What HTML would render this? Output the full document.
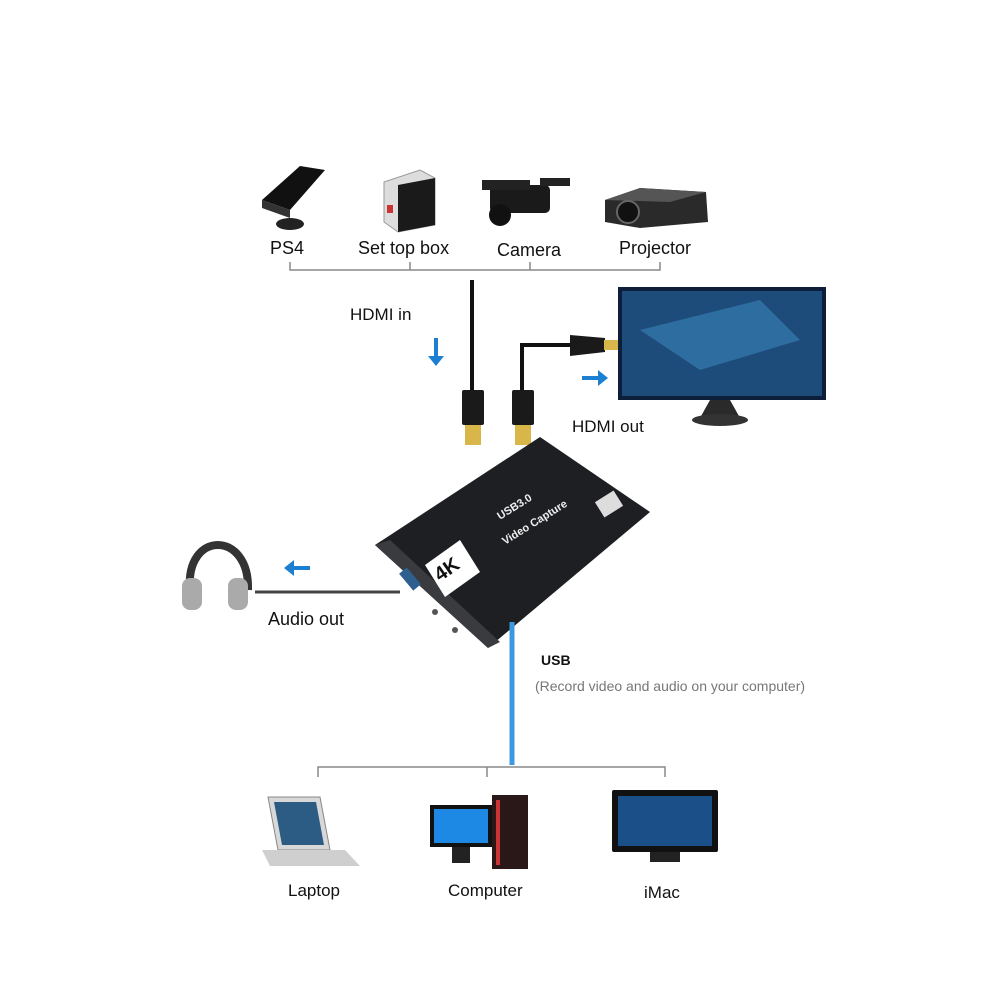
<!DOCTYPE html>
<html><head><meta charset="utf-8"><style>
html,body{margin:0;padding:0;background:#fff;width:1000px;height:1000px;overflow:hidden}
text{font-family:"Liberation Sans",sans-serif}
</style></head><body>
<svg width="1000" height="1000" viewBox="0 0 1000 1000" xmlns="http://www.w3.org/2000/svg">
<g>
  <polygon points="262,200 300,166 325,170 290,210" fill="#111"/>
  <polygon points="262,200 290,210 290,218 262,208" fill="#333"/>
  <ellipse cx="290" cy="224" rx="14" ry="6" fill="#222"/>
  <polygon points="384,182 420,170 435,178 435,225 398,232 384,222" fill="#ddd" stroke="#999"/>
  <polygon points="398,185 435,178 435,225 398,232" fill="#1a1a1a"/>
  <rect x="387" y="205" width="6" height="8" fill="#c33"/>
  <rect x="490" y="185" width="60" height="28" rx="5" fill="#1a1a1a"/>
  <rect x="482" y="180" width="48" height="10" fill="#222"/>
  <circle cx="500" cy="215" r="11" fill="#111"/>
  <rect x="540" y="178" width="30" height="8" fill="#222"/>
  <polygon points="605,200 640,188 706,192 708,222 640,228 605,222" fill="#2a2a2a"/>
  <polygon points="605,200 640,188 706,192 670,202" fill="#555"/>
  <circle cx="628" cy="212" r="11" fill="#111" stroke="#666" stroke-width="2"/>
</g>
<g font-size="18" fill="#111">
  <text x="270" y="254">PS4</text>
  <text x="358" y="254">Set top box</text>
  <text x="497" y="256">Camera</text>
  <text x="619" y="254">Projector</text>
</g>
<g stroke="#888" stroke-width="1.5" fill="none">
  <path d="M290,262 V270 H660 V262"/>
  <path d="M410,262 V270 M530,262 V270"/>
  <path d="M318,777 V767 H665 V777 M487,767 V777"/>
</g>
<text x="350" y="320" font-size="17" fill="#111">HDMI in</text>
<path d="M436,338 V358" stroke="#1d7fd1" stroke-width="4"/>
<polygon points="428,356 444,356 436,366" fill="#1d7fd1"/>
<path d="M472,280 V395" stroke="#111" stroke-width="4" fill="none"/>
<rect x="462" y="390" width="22" height="35" rx="2" fill="#1a1a1a"/>
<rect x="465" y="425" width="16" height="20" fill="#d9b64a"/>
<path d="M522,395 V345 H575" stroke="#111" stroke-width="4" fill="none"/>
<rect x="512" y="390" width="22" height="35" rx="2" fill="#1a1a1a"/>
<rect x="515" y="425" width="16" height="20" fill="#d9b64a"/>
<polygon points="570,335 605,338 605,352 570,356" fill="#1a1a1a"/>
<rect x="604" y="340" width="14" height="10" fill="#d9b64a"/>
<rect x="618" y="287" width="208" height="113" fill="#0d1e3a"/>
<rect x="622" y="291" width="200" height="105" fill="#1d4c7a"/>
<polygon points="640,330 760,300 800,340 700,370" fill="#2e6da0"/>
<path d="M710,400 L700,418 L740,418 L730,400" fill="#2a2a2a"/>
<ellipse cx="720" cy="420" rx="28" ry="6" fill="#333"/>
<path d="M582,378 H600" stroke="#1d7fd1" stroke-width="4"/>
<polygon points="598,370 598,386 608,378" fill="#1d7fd1"/>
<text x="572" y="432" font-size="17" fill="#111">HDMI out</text>
<polygon points="375,545 540,437 650,512 488,648" fill="#1e1f22"/>
<polygon points="375,545 390,540 500,642 488,648" fill="#3a3b3f"/>
<polygon points="425,565 460,540 480,572 445,597" fill="#fff"/>
<text x="440" y="582" font-size="20" font-weight="bold" fill="#111" transform="rotate(-35 440 582)">4K</text>
<rect x="405" y="568" width="10" height="22" fill="#2f5f8f" transform="rotate(-40 410 579)"/>
<circle cx="435" cy="612" r="3" fill="#555"/><circle cx="455" cy="630" r="3" fill="#555"/>
<text x="500" y="520" font-size="11" fill="#eee" font-weight="bold" transform="rotate(-32 500 520)">USB3.0</text>
<text x="505" y="545" font-size="11" fill="#eee" font-weight="bold" transform="rotate(-32 505 545)">Video Capture</text>
<rect x="598" y="495" width="22" height="18" fill="#ddd" transform="rotate(-32 609 504)"/>
<path d="M190,590 C185,530 250,530 248,590" stroke="#333" stroke-width="8" fill="none"/>
<rect x="182" y="578" width="20" height="32" rx="8" fill="#aaa"/>
<rect x="228" y="578" width="20" height="32" rx="8" fill="#aaa"/>
<path d="M292,568 H310" stroke="#1d7fd1" stroke-width="4"/>
<polygon points="294,560 294,576 284,568" fill="#1d7fd1"/>
<path d="M255,592 H400" stroke="#444" stroke-width="3"/>
<text x="268" y="625" font-size="18" fill="#111">Audio out</text>
<path d="M512,622 V765" stroke="#3d98e0" stroke-width="5"/>
<text x="541" y="665" font-size="14" font-weight="bold" fill="#111">USB</text>
<text x="535" y="691" font-size="14" fill="#777">(Record video and audio on your computer)</text>
<polygon points="268,797 320,797 330,850 278,850" fill="#d8d8d8" stroke="#888"/>
<polygon points="274,802 316,802 324,845 282,845" fill="#2c5c84"/>
<polygon points="262,850 345,850 360,866 270,866" fill="#cfcfcf"/>
<rect x="430" y="805" width="62" height="42" fill="#111"/>
<rect x="434" y="809" width="54" height="34" fill="#1e88e5"/>
<rect x="452" y="847" width="18" height="16" fill="#222"/>
<rect x="492" y="795" width="36" height="74" fill="#2a1818"/>
<rect x="496" y="800" width="4" height="65" fill="#c33"/>
<rect x="612" y="790" width="106" height="62" rx="2" fill="#111"/>
<rect x="618" y="796" width="94" height="50" fill="#1a4f88"/>
<rect x="650" y="852" width="30" height="10" fill="#222"/>
<g font-size="17" fill="#111">
  <text x="288" y="896">Laptop</text>
  <text x="448" y="896">Computer</text>
  <text x="644" y="898">iMac</text>
</g>
</svg>
</body></html>
